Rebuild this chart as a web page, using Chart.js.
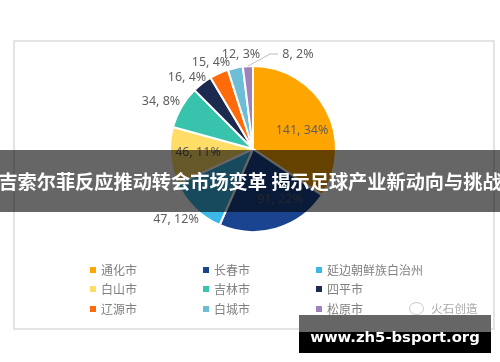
<!DOCTYPE html>
<html lang="zh">
<head>
<meta charset="utf-8">
<script src="https://cdn.jsdelivr.net/npm/chart.js@4"></script>
<style>
html,body{margin:0;padding:0;background:#fff;}
#stage{position:relative;width:500px;height:362px;overflow:hidden;font-family:"Noto Sans CJK SC","Noto Sans",sans-serif;}
#card{position:absolute;left:13px;top:40px;width:478px;height:286px;border:2px solid #e3e3e3;}
#chartBox{position:absolute;left:0;top:0;width:500px;height:362px;filter:blur(0.35px);}
#legend div{position:absolute;font-size:12px;line-height:16px;color:#808080;white-space:nowrap;filter:blur(0.45px);}
#legend i{position:absolute;width:6px;height:6px;}
#mark{position:absolute;left:431px;top:300px;font-size:11.5px;line-height:16px;color:#aaa;letter-spacing:.2px;filter:blur(0.4px);}
#wx{position:absolute;left:409px;top:302px;width:13px;height:11px;border:1px solid #ccc;border-radius:50%;}
#band{position:absolute;left:0;top:150px;width:500px;height:62px;background:rgba(0,0,0,.6);}
#title{position:absolute;left:-10px;width:520px;top:150px;height:62px;line-height:62px;text-align:center;color:#fff;font-size:19.2px;font-weight:700;white-space:nowrap;}
#siteTop{position:absolute;left:299px;top:315px;width:192px;height:17px;background:#666;}
#siteBottom{position:absolute;left:299px;top:332px;width:192px;height:21px;background:#000;}
#site{position:absolute;left:299px;top:325px;width:192px;height:24px;text-align:center;color:#fff;font:700 14.8px/24px "DejaVu Sans",sans-serif;white-space:nowrap;}
</style>
</head>
<body>
<div id="stage">
  <div id="card"></div>
  <div id="chartBox"><canvas id="c" width="500" height="362"></canvas></div>
  <div id="legend"></div>
  <div id="wx"></div>
  <div id="mark">火石创造</div>
  <div id="band"></div>
  <div id="title">吉索尔菲反应推动转会市场变革 揭示足球产业新动向与挑战</div>
  <div id="siteTop"></div>
  <div id="siteBottom"></div>
  <div id="site">www.zh5-bsport.org</div>
</div>
<script>
const categories = ["通化市","长春市","延边朝鲜族自治州","白山市","吉林市","四平市","辽源市","白城市","松原市"];
const legendNames = ["通化市","长春市","延边朝鲜族白治州","白山市","吉林市","四平市","辽源市","白城市","松原市"];
const values = [141,91,47,46,34,16,15,12,8];
const percents = [34,22,12,11,8,4,4,3,2];
const colors = ["#FFA500","#1A4490","#3BB8E8","#FFDD66","#38C4AC","#1B2A4E","#FF6A0A","#6CBDD5","#9E82BC"];

// label placement, in pixels from the pie centre
const labelOffsets = [[49,-19],[27,50],[-77,70],[-55,3],[-92,-48],[-66,-72],[-42,-87],[-12,-95],[45,-95]];

const labelPlugin = {
  id: "sliceLabels",
  afterDatasetsDraw(chart) {
    const ctx = chart.ctx, arcs = chart.getDatasetMeta(0).data;
    const cx = arcs[0].x, cy = arcs[0].y;
    ctx.save();
    // leader line for the last slice
    const last = arcs[arcs.length - 1];
    const mid = (last.startAngle + last.endAngle) / 2;
    ctx.strokeStyle = "#bdbdbd"; ctx.lineWidth = 1;
    ctx.beginPath();
    ctx.moveTo(cx + Math.cos(mid) * last.outerRadius, cy + Math.sin(mid) * last.outerRadius);
    ctx.lineTo(cx + 17, cy - 95);
    ctx.lineTo(cx + 25, cy - 95);
    ctx.stroke();
    ctx.font = '12.5px "Noto Sans","Noto Sans CJK SC",sans-serif';
    ctx.fillStyle = "#5f5f5f"; ctx.textAlign = "center"; ctx.textBaseline = "middle";
    values.forEach((v, i) => {
      ctx.fillText(v + ", " + percents[i] + "%", cx + labelOffsets[i][0], cy + labelOffsets[i][1]);
    });
    ctx.restore();
  }
};

new Chart(document.getElementById("c"), {
  type: "pie",
  data: { labels: categories, datasets: [{ data: values, backgroundColor: colors, borderColor: "#fff", borderWidth: 2 }] },
  options: {
    responsive: false, animation: false,
    layout: { padding: { left: 169, right: 163, top: 65, bottom: 129 } },
    plugins: { legend: { display: false }, tooltip: { enabled: false } }
  },
  plugins: [labelPlugin]
});

// legend in three columns
const legendBox = document.getElementById("legend");
const colX = [90, 203, 316], rowY = [269.5, 289, 308.5];
legendNames.forEach((name, i) => {
  const x = colX[i % 3], y = rowY[Math.floor(i / 3)];
  const s = document.createElement("i");
  s.style.cssText = `left:${x}px;top:${y - 3}px;background:${colors[i]}`;
  const t = document.createElement("div");
  t.textContent = name;
  t.style.left = (x + 11) + "px";
  t.style.top = (y - 8) + "px";
  legendBox.appendChild(s); legendBox.appendChild(t);
});
</script>
</body>
</html>
